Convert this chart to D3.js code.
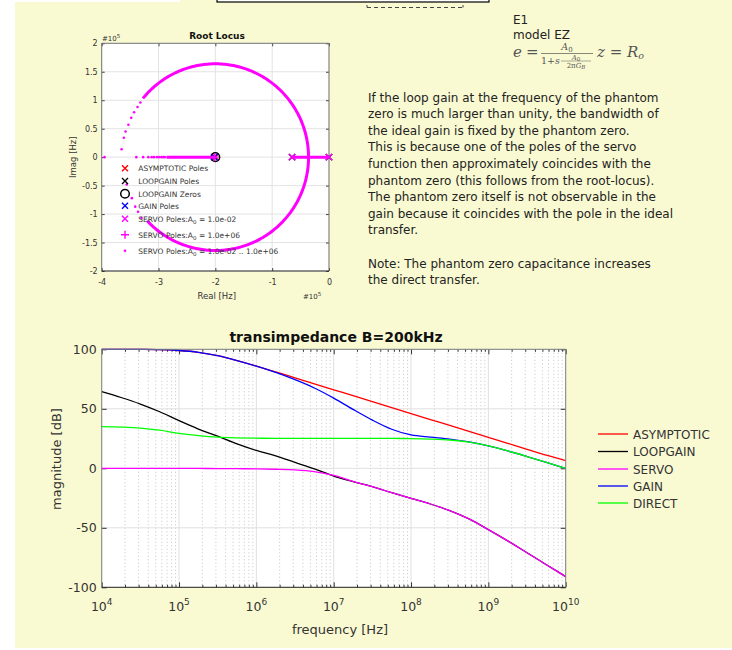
<!DOCTYPE html>
<html>
<head>
<meta charset="utf-8">
<script src="https://cdn.jsdelivr.net/npm/d3@7"></script>
<style>
  body { margin: 0; background: #fff; }
  svg { display: block; }
  text { font-family: "DejaVu Sans", sans-serif; }
  text.serif { font-family: "DejaVu Serif", "Liberation Serif", serif; }
</style>
</head>
<body>
<svg id="chart" width="732" height="650"></svg>
<script>
// ---- bode data: magnitude [dB] at log10(frequency [Hz]) ----
const logFreq    = [4, 4.25, 4.5, 4.75, 5, 5.25, 5.5, 5.75, 6, 6.25, 6.5, 6.75, 7, 7.25, 7.5, 7.75, 8, 8.25, 8.5, 8.75, 9, 9.25, 9.5, 9.75, 10];
const asymptotic = [100, 100, 99.9, 99.7, 99, 97.5, 94.6, 90.5, 85.9, 81, 76, 71, 66, 61, 56, 51, 46, 41, 36, 31, 26, 21, 16, 11, 6.5];
const loopgain   = [64.4, 59.5, 54, 47.5, 40, 33, 27, 20.5, 15, 10.5, 5, -0.5, -6.5, -11.2, -15.5, -20.5, -25.3, -30, -35.5, -42.5, -51.5, -61, -71, -81, -91];
const servo      = [0, 0, 0, 0, 0, -0.1, -0.2, -0.3, -0.5, -0.8, -1.3, -2.8, -6, -11, -15.5, -20.5, -25.3, -30, -35.5, -42.5, -51.5, -61, -71, -81, -91];
const gain       = [100, 100, 99.9, 99.7, 99, 97.5, 94.6, 90.5, 85.8, 80.6, 74.5, 67.5, 59, 49.5, 40.5, 32.8, 28, 26.2, 24.6, 22.2, 18.8, 14.6, 9.9, 5, 0];
const direct     = [35, 34.6, 33.8, 32, 29.3, 27.5, 26.2, 25.6, 25.3, 25.2, 25.2, 25.2, 25.2, 25.2, 25.2, 25.1, 25, 24.6, 23.8, 22, 18.8, 14.6, 9.9, 5, 0];

const seriesNames  = ["ASYMPTOTIC", "LOOPGAIN", "SERVO", "GAIN", "DIRECT"];
const seriesValues = [asymptotic, loopgain, servo, gain, direct];
const seriesColors = ["#ff0000", "#000000", "#ff00ff", "#0000ff", "#00ff00"];

const decades = [1e4, 1e5, 1e6, 1e7, 1e8, 1e9, 1e10];
const magTicks = [-100, -50, 0, 50, 100];

// ---- root locus data, units of 1e5 Hz ----
const reTicks = [-4, -3, -2, -1, 0];
const imTicks = [-2, -1.5, -1, -0.5, 0, 0.5, 1, 1.5, 2];
const locusCircle = {re: -2, im: 0, r: 1.64, from: 141, to: -137};   // dense part of the locus
const locusReal = [[-2.86, -2.0], [-0.65, 0]];                        // dense parts on real axis
const locusDots = [[-3.95, 0], [-3.39, 0], [-3.27, 0], [-3.18, 0], [-3.12, 0], [-3.08, 0], [-3.03, 0],
  [-2.99, 0], [-2.95, 0], [-2.92, 0], [-2.89, 0],
  [-3.65, 0.14], [-3.61, 0.34], [-3.58, 0.45], [-3.53, 0.57], [-3.48, 0.69], [-3.43, 0.79], [-3.37, 0.88], [-3.32, 0.96],
  [-3.56, -0.48], [-3.47, -0.72], [-3.41, -0.87], [-3.36, -0.96], [-3.30, -1.07]];
const asymPoles  = [[-2, 0]];
const loopPoles  = [[-0.65, 0], [0, 0]];
const loopZeros  = [[-2, 0]];
const gainPoles  = [[-2.02, 0]];
const servoLow   = [[-0.65, 0], [0, 0]];   // A0 = 1e-2
const servoHigh  = [[-2.01, 0]];            // A0 = 1e6
const servoA0    = ["1.0e-02", "1.0e+06"];

const svg = d3.select("#chart");
const plain = d => String(d);   // hyphen minus like the original

// page background and clipped diagram fragments at the top
svg.append("rect").attr("x", 15).attr("y", 0).attr("width", 717).attr("height", 648).attr("fill", "#fafad2");
svg.append("rect").attr("x", 15).attr("y", 0).attr("width", 165).attr("height", 2).attr("fill", "#fff");
svg.append("rect").attr("x", 217).attr("y", -5).attr("width", 272).attr("height", 7)
    .attr("fill", "#fff").attr("stroke", "#000").attr("stroke-width", 1.2);
svg.append("line").attr("x1", 367).attr("x2", 463).attr("y1", 7.5).attr("y2", 7.5)
    .attr("stroke", "#444").attr("stroke-dasharray", "4,3");
svg.append("path").attr("d", "M367,5V7.5M463,5V7.5").attr("stroke", "#444").attr("fill", "none");

// ---- text block on the right ----
svg.append("text").attr("x", 513).attr("y", 24).attr("font-size", 12).attr("fill", "#222").text("E1");
svg.append("text").attr("x", 513).attr("y", 38.5).attr("font-size", 12).attr("fill", "#222").text("model EZ");

const eq = svg.append("g").attr("fill", "#555");
eq.append("text").attr("x", 513).attr("y", 57).attr("font-size", 15).attr("font-style", "italic").text("e");
eq.append("text").attr("x", 526).attr("y", 57).attr("font-size", 15).text("=");
let t = eq.append("text").attr("x", 567).attr("y", 50).attr("font-size", 9.5).attr("text-anchor", "middle");
t.append("tspan").attr("font-style", "italic").text("A");
t.append("tspan").attr("font-size", 7).attr("dy", 2).text("0");
eq.append("line").attr("x1", 541).attr("x2", 593).attr("y1", 53.5).attr("y2", 53.5).attr("stroke", "#555").attr("stroke-width", 0.7);
t = eq.append("text").attr("x", 541).attr("y", 64).attr("font-size", 9.5);
t.append("tspan").text("1+");
t.append("tspan").attr("font-style", "italic").text("s");
t = eq.append("text").attr("x", 576).attr("y", 59.5).attr("font-size", 7).attr("text-anchor", "middle");
t.append("tspan").attr("font-style", "italic").text("A");
t.append("tspan").attr("font-size", 5.5).attr("dy", 1.5).text("0");
eq.append("line").attr("x1", 561).attr("x2", 591).attr("y1", 61).attr("y2", 61).attr("stroke", "#555").attr("stroke-width", 0.5);
t = eq.append("text").attr("x", 576).attr("y", 67.5).attr("font-size", 7).attr("text-anchor", "middle");
t.append("tspan").text("2\u03c0");
t.append("tspan").attr("font-style", "italic").text("G");
t.append("tspan").attr("font-size", 5.5).attr("font-style", "italic").attr("dy", 1.5).text("B");
t = eq.append("text").attr("x", 597).attr("y", 57).attr("font-size", 15);
t.append("tspan").attr("font-style", "italic").text("z");
t.append("tspan").text(" = ");
t.append("tspan").attr("font-style", "italic").text("R");
t.append("tspan").attr("font-size", 9.5).attr("font-style", "italic").attr("dy", 2).text("o");
eq.selectAll("text").attr("class", "serif");

const paragraph = [
  "If the loop gain at the frequency of the phantom",
  "zero is much larger than unity, the bandwidth of",
  "the ideal gain is fixed by the phantom zero.",
  "This is because one of the poles of the servo",
  "function then approximately coincides with the",
  "phantom zero (this follows from the root-locus).",
  "The phantom zero itself is not observable in the",
  "gain because it coincides with the pole in the ideal",
  "transfer.",
  "",
  "Note: The phantom zero capacitance increases",
  "the direct transfer."
];
svg.append("g").selectAll("text").data(paragraph).enter().append("text")
    .attr("x", 368).attr("y", (d, i) => 101.5 + i * 16.6)
    .attr("font-size", 12).attr("fill", "#222").text(d => d);

// ================= root locus =================
const xr = d3.scaleLinear().domain([-4, 0]).range([101.7, 329]);
const yr = d3.scaleLinear().domain([-2, 2]).range([271, 43.3]);
const rl = svg.append("g");

rl.append("rect").attr("x", xr(-4)).attr("y", yr(2)).attr("width", xr(0) - xr(-4)).attr("height", yr(-2) - yr(2)).attr("fill", "#fff");
rl.append("g").selectAll("line").data(reTicks).enter().append("line")
    .attr("x1", d => xr(d)).attr("x2", d => xr(d)).attr("y1", yr(2)).attr("y2", yr(-2))
    .attr("stroke", "#e3e3e3");
rl.append("g").selectAll("line").data(imTicks).enter().append("line")
    .attr("y1", d => yr(d)).attr("y2", d => yr(d)).attr("x1", xr(-4)).attr("x2", xr(0))
    .attr("stroke", "#e3e3e3");

// ticks on all four sides, pointing inward
rl.append("g").attr("transform", `translate(0,${yr(-2)})`)
    .call(d3.axisBottom(xr).tickValues(reTicks).tickSizeInner(-3).tickSizeOuter(0).tickPadding(8).tickFormat(plain))
    .call(g => g.select(".domain").remove())
    .call(g => g.selectAll("text").attr("font-size", 8).attr("fill", "#333").style("font-family", "DejaVu Sans"));
rl.append("g").attr("transform", `translate(${xr(-4)},0)`)
    .call(d3.axisLeft(yr).tickValues(imTicks).tickSizeInner(-3).tickSizeOuter(0).tickPadding(4).tickFormat(plain))
    .call(g => g.select(".domain").remove())
    .call(g => g.selectAll("text").attr("font-size", 8).attr("fill", "#333").style("font-family", "DejaVu Sans"));
rl.append("g").attr("transform", `translate(0,${yr(2)})`)
    .call(d3.axisTop(xr).tickValues(reTicks).tickSizeInner(-3).tickSizeOuter(0).tickFormat(""))
    .call(g => g.select(".domain").remove());
rl.append("g").attr("transform", `translate(${xr(0)},0)`)
    .call(d3.axisRight(yr).tickValues(imTicks).tickSizeInner(-3).tickSizeOuter(0).tickFormat(""))
    .call(g => g.select(".domain").remove());
rl.selectAll(".tick line").attr("stroke", "#444");

rl.append("path").attr("fill", "none").attr("stroke", "#777")
    .attr("d", `M${xr(-4)},${yr(-2)}V${yr(2)}H${xr(0)}V${yr(-2)}`);
rl.append("line").attr("x1", xr(-4)).attr("x2", xr(0)).attr("y1", yr(-2)).attr("y2", yr(-2)).attr("stroke", "#262626");

function xMark(g, pts, color, size, w) {
  g.selectAll(null).data(pts).enter().append("path")
    .attr("d", d => `M${xr(d[0]) - size},${yr(d[1]) - size}L${xr(d[0]) + size},${yr(d[1]) + size}M${xr(d[0]) - size},${yr(d[1]) + size}L${xr(d[0]) + size},${yr(d[1]) - size}`)
    .attr("stroke", color).attr("stroke-width", w).attr("fill", "none");
}
function plusMark(g, pts, color, size, w) {
  g.selectAll(null).data(pts).enter().append("path")
    .attr("d", d => `M${xr(d[0]) - size},${yr(d[1])}H${xr(d[0]) + size}M${xr(d[0])},${yr(d[1]) - size}V${yr(d[1]) + size}`)
    .attr("stroke", color).attr("stroke-width", w).attr("fill", "none");
}

const marks = rl.append("g");
xMark(marks, asymPoles, "#ff0000", 3.2, 1.4);
xMark(marks, loopPoles, "#000", 3.2, 1.4);
marks.selectAll(null).data(loopZeros).enter().append("circle")
    .attr("cx", d => xr(d[0])).attr("cy", d => yr(d[1])).attr("r", 4.3)
    .attr("fill", "none").attr("stroke", "#000").attr("stroke-width", 1.5);
xMark(marks, gainPoles, "#0000ff", 3.2, 1.4);
xMark(marks, servoLow, "#ff00ff", 3.2, 1.4);
plusMark(marks, servoHigh, "#ff00ff", 4, 1.4);

// locus
const arcAngles = d3.range(locusCircle.from, locusCircle.to - 1, -1);
rl.append("path").datum(arcAngles)
    .attr("fill", "none").attr("stroke", "#ff00ff").attr("stroke-width", 3)
    .attr("d", d3.line()
      .x(a => xr(locusCircle.re + locusCircle.r * Math.cos(a * Math.PI / 180)))
      .y(a => yr(locusCircle.im + locusCircle.r * Math.sin(a * Math.PI / 180))));
rl.append("g").selectAll("line").data(locusReal).enter().append("line")
    .attr("x1", d => xr(d[0])).attr("x2", d => xr(d[1])).attr("y1", yr(0)).attr("y2", yr(0))
    .attr("stroke", "#ff00ff").attr("stroke-width", 3);
rl.append("g").selectAll("circle").data(locusDots).enter().append("circle")
    .attr("cx", d => xr(d[0])).attr("cy", d => yr(d[1])).attr("r", 1.3).attr("fill", "#ff00ff");

// legend inside the root locus axes
const rlLegend = [
  {label: "ASYMPTOTIC Poles", kind: "x", color: "#ff0000"},
  {label: "LOOPGAIN Poles", kind: "x", color: "#000"},
  {label: "LOOPGAIN Zeros", kind: "o", color: "#000"},
  {label: "GAIN Poles", kind: "x", color: "#0000ff"},
  {label: "SERVO Poles:A", a0: " =  " + servoA0[0], kind: "x", color: "#ff00ff"},
  {label: "SERVO Poles:A", a0: " =  " + servoA0[1], kind: "+", color: "#ff00ff"},
  {label: "SERVO Poles:A", a0: " =  " + servoA0[0] + " ..  " + servoA0[1], kind: ".", color: "#ff00ff"}
];
const rlRowY = [168.3, 181, 193.7, 205.7, 218.7, 234.7, 250.7];
rlLegend.forEach((e, i) => {
  const cx = 125, cy = rlRowY[i];
  if (e.kind === "x") rl.append("path").attr("d", `M${cx - 3},${cy - 3}L${cx + 3},${cy + 3}M${cx - 3},${cy + 3}L${cx + 3},${cy - 3}`).attr("stroke", e.color).attr("stroke-width", 1.4);
  if (e.kind === "+") rl.append("path").attr("d", `M${cx - 4},${cy}H${cx + 4}M${cx},${cy - 4}V${cy + 4}`).attr("stroke", e.color).attr("stroke-width", 1.4);
  if (e.kind === "o") rl.append("circle").attr("cx", cx).attr("cy", cy).attr("r", 4.3).attr("fill", "none").attr("stroke", e.color).attr("stroke-width", 1.5);
  if (e.kind === ".") rl.append("circle").attr("cx", cx).attr("cy", cy).attr("r", 1.3).attr("fill", e.color);
  const tx = rl.append("text").attr("x", 138.3).attr("y", cy + 2.8).attr("font-size", 7.5).attr("fill", "#333");
  tx.append("tspan").text(e.label);
  if (e.a0) {
    tx.append("tspan").attr("font-size", 5.5).attr("dy", 2).text("0");
    tx.append("tspan").attr("dy", -2).text(e.a0);
  }
});

rl.append("text").attr("x", 217).attr("y", 38.5).attr("text-anchor", "middle")
    .attr("font-size", 9).attr("font-weight", "bold").attr("fill", "#111").text("Root Locus");
t = rl.append("text").attr("x", 102).attr("y", 40.5).attr("font-size", 7).attr("fill", "#333");
t.append("tspan").text("#10");
t.append("tspan").attr("font-size", 5.5).attr("dy", -3).text("5");
t = rl.append("text").attr("x", 303).attr("y", 299).attr("font-size", 7).attr("fill", "#333");
t.append("tspan").text("#10");
t.append("tspan").attr("font-size", 5.5).attr("dy", -3).text("5");
rl.append("text").attr("x", 216.7).attr("y", 299.3).attr("text-anchor", "middle")
    .attr("font-size", 8.5).attr("fill", "#333").text("Real [Hz]");
rl.append("text").attr("transform", `translate(76,${yr(0)}) rotate(-90)`).attr("text-anchor", "middle")
    .attr("font-size", 8.5).attr("fill", "#333").text("Imag [Hz]");

// ================= bode magnitude =================
const x = d3.scaleLog().domain([1e4, 1e10]).range([101.7, 565.7]);
const y = d3.scaleLinear().domain([-100, 100]).range([587.3, 349.3]);
const bd = svg.append("g");

bd.append("rect").attr("x", x(1e4)).attr("y", y(100)).attr("width", x(1e10) - x(1e4)).attr("height", y(-100) - y(100)).attr("fill", "#fff");

const minorFreqs = [];
decades.slice(0, -1).forEach(d => [2, 3, 4, 5, 6, 7, 8, 9].forEach(m => minorFreqs.push(d * m)));

bd.append("g").selectAll("line").data(minorFreqs).enter().append("line")
    .attr("x1", d => x(d)).attr("x2", d => x(d)).attr("y1", y(100)).attr("y2", y(-100))
    .attr("stroke", "#c4c4c4").attr("stroke-dasharray", "1,2.5");
bd.append("g").selectAll("line").data(decades).enter().append("line")
    .attr("x1", d => x(d)).attr("x2", d => x(d)).attr("y1", y(100)).attr("y2", y(-100))
    .attr("stroke", "#e0e0e0");
bd.append("g").selectAll("line").data(magTicks).enter().append("line")
    .attr("y1", d => y(d)).attr("y2", d => y(d)).attr("x1", x(1e4)).attr("x2", x(1e10))
    .attr("stroke", "#e0e0e0");

// tick marks inward on all sides
bd.append("g").attr("transform", `translate(0,${y(-100)})`)
    .call(d3.axisBottom(x).tickValues(decades).tickSizeInner(-5).tickSizeOuter(0).tickFormat(""))
    .call(g => g.select(".domain").remove());
bd.append("g").attr("transform", `translate(0,${y(-100)})`)
    .call(d3.axisBottom(x).tickValues(minorFreqs).tickSizeInner(-2.5).tickSizeOuter(0).tickFormat(""))
    .call(g => g.select(".domain").remove());
bd.append("g").attr("transform", `translate(0,${y(100)})`)
    .call(d3.axisTop(x).tickValues(decades).tickSizeInner(-5).tickSizeOuter(0).tickFormat(""))
    .call(g => g.select(".domain").remove());
bd.append("g").attr("transform", `translate(0,${y(100)})`)
    .call(d3.axisTop(x).tickValues(minorFreqs).tickSizeInner(-2.5).tickSizeOuter(0).tickFormat(""))
    .call(g => g.select(".domain").remove());
bd.append("g").attr("transform", `translate(${x(1e4)},0)`)
    .call(d3.axisLeft(y).tickValues(magTicks).tickSizeInner(-5).tickSizeOuter(0).tickPadding(5).tickFormat(plain))
    .call(g => g.select(".domain").remove())
    .call(g => g.selectAll("text").attr("font-size", 12.5).attr("fill", "#333").style("font-family", "DejaVu Sans"));
bd.append("g").attr("transform", `translate(${x(1e10)},0)`)
    .call(d3.axisRight(y).tickValues(magTicks).tickSizeInner(-5).tickSizeOuter(0).tickFormat(""))
    .call(g => g.select(".domain").remove());
bd.selectAll(".tick line").attr("stroke", "#333");

bd.append("g").selectAll("text").data(decades).enter().append("text")
    .attr("x", d => x(d)).attr("y", 610.5).attr("text-anchor", "middle")
    .attr("font-size", 12.5).attr("fill", "#333")
    .each(function (d) {
      const el = d3.select(this);
      el.append("tspan").text("10");
      el.append("tspan").attr("font-size", 9).attr("dy", -6).text(Math.round(Math.log10(d)));
    });

const line = d3.line()
    .x((v, i) => x(Math.pow(10, logFreq[i])))
    .y(v => y(v))
    .curve(d3.curveMonotoneX);
bd.append("g").selectAll("path").data(seriesValues).enter().append("path")
    .attr("fill", "none").attr("stroke", (d, i) => seriesColors[i]).attr("stroke-width", 1.3)
    .attr("d", line);

bd.append("path").attr("fill", "none").attr("stroke", "#808080")
    .attr("d", `M${x(1e4)},${y(-100)}V${y(100)}H${x(1e10)}V${y(-100)}`);
bd.append("line").attr("x1", x(1e4)).attr("x2", x(1e10)).attr("y1", y(-100)).attr("y2", y(-100)).attr("stroke", "#262626");

bd.append("text").attr("x", 336).attr("y", 342).attr("text-anchor", "middle")
    .attr("font-size", 14).attr("font-weight", "bold").attr("fill", "#111").text("transimpedance B=200kHz");
bd.append("text").attr("x", 340).attr("y", 633.5).attr("text-anchor", "middle")
    .attr("font-size", 13).attr("fill", "#333").text("frequency [Hz]");
bd.append("text").attr("transform", "translate(61,459) rotate(-90)").attr("text-anchor", "middle")
    .attr("font-size", 13).attr("fill", "#333").text("magnitude [dB]");

// legend outside on the right
const legRowY = [434, 451.5, 469, 486, 503];
const leg = bd.append("g").selectAll("g").data(seriesNames).enter().append("g")
    .attr("transform", (d, i) => `translate(598,${legRowY[i]})`);
leg.append("line").attr("x1", 0).attr("x2", 30).attr("stroke", (d, i) => seriesColors[i]).attr("stroke-width", 1.3);
leg.append("text").attr("x", 35).attr("y", 4.5).attr("font-size", 12).attr("fill", "#333").text(d => d);
</script>
</body>
</html>
